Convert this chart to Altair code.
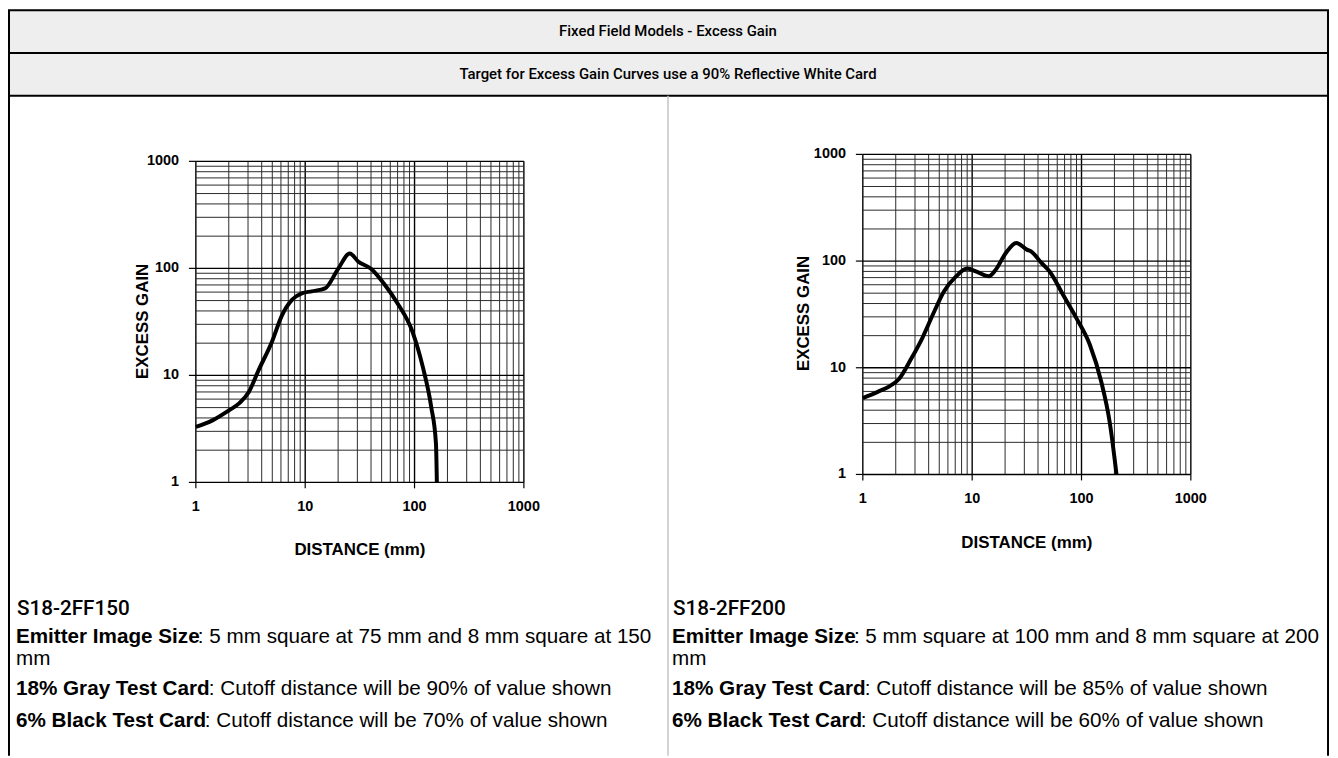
import altair as alt
import pandas as pd

# ---------------- data ----------------
title_main = "Fixed Field Models - Excess Gain"
title_sub = "Target for Excess Gain Curves use a 90% Reflective White Card"

dist_ff150 = [1, 1.42, 2.0, 2.5, 3.05, 3.75, 5.0, 6.1, 7.6, 9.3, 11.5, 15.2, 20, 25.6, 30.5, 40, 53, 70, 96, 119, 142, 157, 160]
gain_ff150 = [3.3, 3.8, 4.7, 5.5, 7.0, 11.2, 21, 36, 51, 58.5, 61, 65, 99, 138, 116, 99, 71, 47, 25.4, 12, 5.1, 2.3, 1.0]

dist_ff200 = [1, 1.37, 1.75, 2.15, 2.75, 3.5, 4.5, 5.5, 7.05, 9.0, 11.1, 14.2, 16.3, 20.1, 25.3, 31.6, 35, 43, 51.5, 68, 90, 119, 152, 181, 209]
gain_ff200 = [5.2, 5.95, 6.7, 7.9, 12, 19, 33.7, 51.7, 71, 85, 79, 72, 82, 117, 148, 128, 122, 96, 79, 48, 29, 16.5, 7.3, 3.1, 1.0]

major_ticks = [1, 10, 100, 1000]
tick_labels = ["1", "10", "100", "1000"]
grid_vals = [k * 10 ** n for n in range(3) for k in range(1, 10)] + [1000]

y_title = "EXCESS GAIN"
x_title = "DISTANCE (mm)"

left_model = "S18-2FF150"
right_model = "S18-2FF200"
bold_labels = ["Emitter Image Size", "18% Gray Test Card", "6% Black Test Card"]
left_texts = [": 5 mm square at 75 mm and 8 mm square at 150", "mm",
              ": Cutoff distance will be 90% of value shown",
              ": Cutoff distance will be 70% of value shown"]
right_texts = [": 5 mm square at 100 mm and 8 mm square at 200", "mm",
               ": Cutoff distance will be 85% of value shown",
               ": Cutoff distance will be 60% of value shown"]

# ---------------- style ----------------
W, H = 1330, 750
CHART_FONT = "Liberation Sans, Arial, sans-serif"
TEXT_FONT = "Liberation Sans, Arial, Helvetica, sans-serif"
HEAD_FONT = "Roboto, Liberation Sans, sans-serif"
BODY_SIZE = 20.8
one = pd.DataFrame({"k": [0]})


def panel(dist, gain, xr, yr):
    xs = alt.Scale(type="log", domain=[1, 1000], range=xr)
    ys = alt.Scale(type="log", domain=[1, 1000], range=yr)
    grid = pd.DataFrame({"v": grid_vals, "lo": 1, "hi": 1000})
    ticks = pd.DataFrame({"v": major_ticks, "lab": tick_labels, "base": 1})
    curve = pd.DataFrame({"d": dist, "g": gain})
    is_major = "indexof([1,10,100,1000], datum.v) >= 0"
    col = alt.condition(is_major, alt.value("#000000"), alt.value("#2a2a2a"))
    sw = alt.condition(is_major, alt.value(1.4), alt.value(1))

    vgrid = alt.Chart(grid).mark_rule().encode(
        x=alt.X("v:Q", scale=xs, axis=None),
        y=alt.Y("lo:Q", scale=ys, axis=None), y2="hi:Q", color=col, strokeWidth=sw)
    hgrid = alt.Chart(grid).mark_rule().encode(
        y=alt.Y("v:Q", scale=ys, axis=None),
        x=alt.X("lo:Q", scale=xs, axis=None), x2="hi:Q", color=col, strokeWidth=sw)
    xt = alt.Chart(ticks).mark_rule(color="#000", strokeWidth=1.2).encode(
        x=alt.X("v:Q", scale=xs, axis=None),
        y=alt.Y("base:Q", scale=ys, axis=None), y2=alt.value(yr[0] + 6))
    yt = alt.Chart(ticks).mark_rule(color="#000", strokeWidth=1.2).encode(
        y=alt.Y("v:Q", scale=ys, axis=None),
        x=alt.X("base:Q", scale=xs, axis=None), x2=alt.value(xr[0] - 7))
    xl = alt.Chart(ticks).mark_text(dy=25, font=CHART_FONT, fontSize=14.5, fontWeight="bold",
                                    baseline="middle", color="#000").encode(
        x=alt.X("v:Q", scale=xs, axis=None), y=alt.Y("base:Q", scale=ys, axis=None), text="lab:N")
    yl = alt.Chart(ticks).mark_text(dx=-17, align="right", font=CHART_FONT, fontSize=14.5,
                                    fontWeight="bold", baseline="middle", color="#000").encode(
        x=alt.X("base:Q", scale=xs, axis=None), y=alt.Y("v:Q", scale=ys, axis=None), text="lab:N")
    line = alt.Chart(curve).mark_line(color="#000", strokeWidth=4, interpolate="monotone").encode(
        x=alt.X("d:Q", scale=xs, axis=None), y=alt.Y("g:Q", scale=ys, axis=None))
    return alt.layer(vgrid, hgrid, xt, yt, xl, yl, line)


def rect(x1, x2, y1, y2, fill, stroke, sw):
    return alt.Chart(one).mark_rect(fill=fill, stroke=stroke, strokeWidth=sw).encode(
        x=alt.value(x1), x2=alt.value(x2), y=alt.value(y1), y2=alt.value(y2))


def vline(x, y1, y2, color, sw):
    return alt.Chart(one).mark_rule(color=color, strokeWidth=sw).encode(
        x=alt.value(x), y=alt.value(y1), y2=alt.value(y2))


def text(t, x, y, size, weight="normal", font=TEXT_FONT, align="left", angle=0):
    return alt.Chart(pd.DataFrame({"t": [t]})).mark_text(
        font=font, fontSize=size, fontWeight=weight, align=align, baseline="middle",
        angle=angle, color="#000").encode(text="t:N", x=alt.value(x), y=alt.value(y))


decor = [
    rect(1, 1328, 0, 43, "#eeeeee", "#000", 2),
    rect(1, 1328, 43, 86, "#eeeeee", "#000", 2),
    vline(1, 86, H, "#000", 2),
    vline(1328, 86, H, "#000", 2),
    vline(664, 86, H, "#c4c4c4", 1.5),
    text(title_main, 664, 21, 15, 500, HEAD_FONT, align="center"),
    text(title_sub, 664, 64, 15, 500, HEAD_FONT, align="center"),
]

titles = [
    text(y_title, 136, 313, 17, "bold", CHART_FONT, "center", 270),
    text(x_title, 354, 543, 17, "bold", CHART_FONT, "center"),
    text(y_title, 801, 305, 17, "bold", CHART_FONT, "center", 270),
    text(x_title, 1025, 536, 17, "bold", CHART_FONT, "center"),
]

rows_y = [631, 683, 715]
bold_w = [183, 194, 190]
body = [text(left_model, 9, 602, BODY_SIZE, 500, HEAD_FONT),
        text(right_model, 669, 602, BODY_SIZE, 500, HEAD_FONT)]
for base_x, texts in ((8, left_texts), (668, right_texts)):
    for lab, yy in zip(bold_labels, rows_y):
        body.append(text(lab, base_x, yy, BODY_SIZE, "bold"))
    body.append(text(texts[0], base_x + bold_w[0], rows_y[0], BODY_SIZE))
    body.append(text(texts[1], base_x, 653, BODY_SIZE))
    body.append(text(texts[2], base_x + bold_w[1], rows_y[1], BODY_SIZE))
    body.append(text(texts[3], base_x + bold_w[2], rows_y[2], BODY_SIZE))

p1 = panel(dist_ff150, gain_ff150, [189, 519], [475, 152])
p2 = panel(dist_ff200, gain_ff200, [860, 1190], [467, 145])

chart = alt.layer(*decor, p1, p2, *titles, *body).resolve_scale(
    x="independent", y="independent"
).properties(
    width=W, height=H, autosize=alt.AutoSizeParams(type="none"), padding=0,
    background="white"
).configure_view(stroke=None)

chart.save("out.html", embed_options={"renderer": "svg", "actions": False})
